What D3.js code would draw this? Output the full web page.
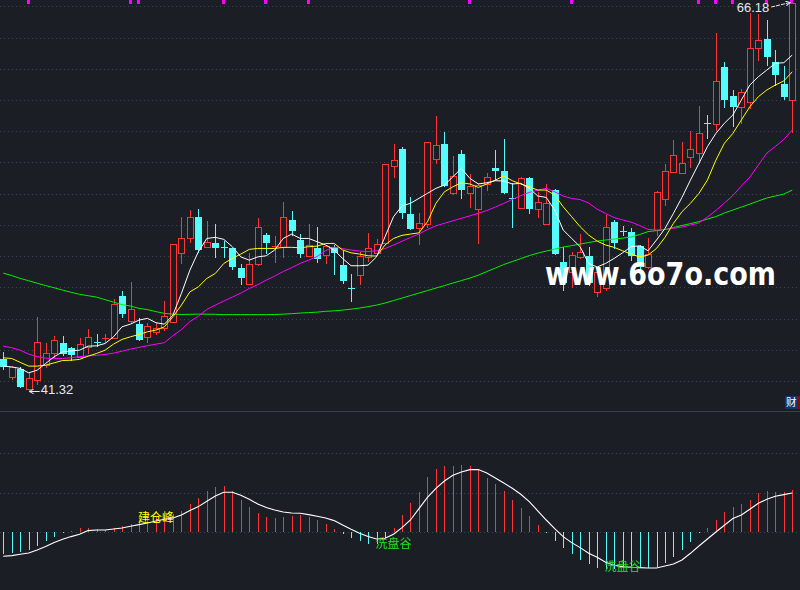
<!DOCTYPE html>
<html><head><meta charset="utf-8">
<script src="https://cdn.jsdelivr.net/npm/d3@7/dist/d3.min.js"></script>
<style>html,body{margin:0;padding:0;background:#1b1e25;overflow:hidden}</style>
</head><body>
<svg id="chart" width="800" height="590"></svg>
<script>
// ---- candle data (daily OHLC) ----
const opens  = [43.30,42.16,42.66,41.39,41.93,42.91,43.66,44.30,43.98,43.45,
                44.09,44.39,44.66,44.62,47.34,45.75,45.54,44.69,45.05,45.27,
                45.69,50.07,51.03,52.38,50.46,50.71,50.50,50.39,49.11,48.09,
                49.39,51.25,50.54,50.50,52.21,50.93,49.92,50.43,49.96,50.50,
                49.32,47.83,48.70,49.85,50.11,50.75,55.69,56.74,52.59,51.67,
                51.93,56.10,57.08,53.92,56.44,53.96,52.89,54.52,55.52,55.35,
                53.62,52.96,54.88,52.89,51.93,54.13,49.52,48.89,49.85,49.92,
                47.61,47.83,52.10,51.52,51.42,50.54,49.17,51.57,53.53,55.30,
                55.24,56.23,56.52,58.41,58.34,62.00,60.16,59.47,59.79,63.21,
                63.79,62.36,60.93,59.90];
const highs  = [43.77,42.85,42.80,42.45,46.01,44.30,44.79,44.79,44.09,44.62,
                45.22,44.88,44.88,47.14,47.66,48.25,45.91,45.59,45.59,47.02,
                50.65,52.42,52.85,52.89,52.14,51.93,50.88,50.39,49.39,50.07,
                52.32,51.35,51.18,53.38,52.80,51.31,51.95,51.78,50.61,50.61,
                50.22,48.75,50.16,51.35,50.97,55.78,57.08,56.87,53.66,52.68,
                57.19,58.87,57.83,56.31,56.70,55.16,54.60,55.20,56.70,57.38,
                54.56,54.98,54.98,54.02,54.52,54.19,50.50,50.18,51.31,50.50,
                49.13,52.53,52.21,51.82,51.67,50.61,51.03,54.09,55.80,57.34,
                57.23,57.91,59.52,58.94,64.21,62.36,60.54,60.59,65.48,65.41,
                65.03,63.11,62.08,66.18];
const lows   = [42.64,42.02,41.50,41.32,41.69,42.80,43.34,43.55,43.23,43.45,
                43.66,44.15,44.41,44.62,45.97,45.69,44.52,44.41,44.90,45.16,
                45.69,49.43,50.82,50.16,50.46,49.85,49.85,49.05,48.09,48.09,
                49.32,50.07,49.53,49.85,51.25,49.85,49.92,49.53,49.43,48.75,
                48.19,47.04,48.11,49.60,50.07,50.71,54.98,52.32,51.63,50.65,
                51.74,55.88,54.39,53.87,53.60,53.06,50.75,54.13,54.77,53.96,
                51.78,52.96,52.64,52.38,51.93,50.03,47.72,47.93,49.75,48.04,
                47.36,47.72,50.39,51.25,49.64,49.00,49.15,51.25,53.17,55.30,
                55.24,55.62,55.84,57.48,57.98,59.47,58.23,58.41,59.37,62.46,
                62.14,60.86,59.96,57.87];
const closes = [42.77,42.77,41.52,42.12,44.37,43.66,44.50,43.62,43.57,44.24,
                44.69,44.34,44.66,46.82,46.18,46.48,44.52,45.43,45.30,46.05,
                50.65,51.03,52.38,50.29,50.78,50.43,50.48,49.17,48.51,49.37,
                51.74,50.75,50.54,52.42,51.52,50.03,50.61,49.71,50.56,50.07,
                48.30,47.80,49.90,50.39,50.65,55.78,56.05,52.64,51.63,52.00,
                57.19,57.02,54.39,55.03,54.13,54.39,54.45,54.98,55.37,53.96,
                53.57,54.88,52.91,53.34,53.28,50.03,48.17,49.95,50.18,48.15,
                48.89,51.78,50.71,51.50,49.90,49.21,50.03,53.98,55.37,56.37,
                55.84,56.74,57.76,58.38,61.12,59.90,59.47,60.39,63.21,63.75,
                62.68,61.50,60.07,66.10];

// ---- moving averages as drawn ----
const ma5  = [42.85,42.80,42.70,42.42,42.59,43.02,43.45,43.77,43.83,43.87,
              44.13,44.15,44.30,44.73,45.37,45.54,45.80,45.91,45.63,45.54,
              46.12,47.51,49.00,50.18,51.03,51.10,50.97,50.50,49.85,49.64,
              49.85,49.92,50.29,51.03,51.31,51.03,51.03,50.82,50.61,50.29,
              49.75,49.28,49.28,49.32,49.85,51.14,52.42,53.11,53.28,53.60,
              53.92,54.24,54.45,54.98,55.52,54.88,54.52,54.60,54.73,54.71,
              54.52,54.56,54.24,53.75,53.66,52.85,51.57,51.03,50.50,49.43,
              49.20,49.43,49.75,50.11,50.50,50.56,50.24,50.93,51.67,52.64,
              53.66,54.77,55.84,56.91,57.76,58.41,58.94,59.90,60.86,61.39,
              61.82,62.25,62.29,62.78];
const ma10 = [43.38,43.34,43.09,42.85,42.85,42.91,43.06,43.21,43.23,43.28,
              43.49,43.66,43.87,44.26,44.56,44.73,44.88,45.05,45.16,45.37,
              46.01,46.76,47.61,47.93,48.47,48.79,49.43,49.75,50.03,50.33,
              50.39,50.39,50.39,50.46,50.46,50.43,50.50,50.54,50.71,50.71,
              50.29,50.11,50.03,49.92,49.90,50.61,51.03,51.23,51.31,51.39,
              52.10,53.28,54.02,54.34,54.60,54.52,54.30,54.52,54.77,55.03,
              54.73,54.52,54.34,54.13,54.13,53.81,53.06,52.42,51.78,51.25,
              50.86,50.61,50.46,50.24,50.03,49.85,49.96,50.39,51.10,52.00,
              52.74,53.28,53.92,54.77,56.05,57.13,57.76,58.62,59.47,60.11,
              60.54,60.86,61.12,61.71];
const ma20 = [44.13,44.03,43.87,43.62,43.46,43.36,43.34,43.34,43.39,43.46,
              43.50,43.54,43.60,43.68,43.81,43.94,44.05,44.16,44.26,44.35,
              44.80,45.19,45.70,46.05,46.48,46.76,47.02,47.27,47.53,47.82,
              48.07,48.36,48.62,48.91,49.16,49.43,49.64,49.87,50.25,50.48,
              50.38,50.29,50.22,50.19,50.25,50.38,50.61,50.85,51.09,51.32,
              51.60,51.84,52.00,52.16,52.32,52.48,52.64,52.82,53.04,53.28,
              53.53,53.78,53.98,54.13,54.24,54.02,53.75,53.59,53.52,53.30,
              52.91,52.63,52.37,52.22,52.08,51.86,51.61,51.57,51.60,51.68,
              51.76,51.89,52.02,52.40,52.82,53.30,53.78,54.39,54.96,55.73,
              56.50,56.92,57.37,57.98];
const ma60 = [48.81,48.65,48.47,48.32,48.16,48.01,47.87,47.72,47.58,47.45,
              47.36,47.27,47.11,46.95,46.79,46.70,46.55,46.47,46.34,46.23,
              46.18,46.16,46.17,46.18,46.18,46.17,46.15,46.15,46.15,46.15,
              46.15,46.15,46.16,46.18,46.21,46.25,46.28,46.31,46.36,46.39,
              46.44,46.50,46.57,46.66,46.76,46.89,47.05,47.21,47.37,47.53,
              47.69,47.85,48.01,48.17,48.33,48.49,48.68,48.91,49.13,49.36,
              49.55,49.74,49.93,50.09,50.22,50.35,50.48,50.57,50.67,50.77,
              50.86,50.93,50.99,51.05,51.12,51.28,51.47,51.53,51.60,51.73,
              51.86,51.98,52.11,52.27,52.43,52.66,52.85,53.04,53.23,53.43,
              53.62,53.75,53.87,54.13];

// ---- lower oscillator ----
const oscHist = [-21.7,-20.3,-19.3,-17.7,-13.7,-8.3,-4.3,-0.7,1.7,4.3,
                 4.3,3,2,4.3,6.3,8.3,12.3,15,15,17.3,
                 18.3,21.7,28.3,34.3,41.3,45.3,46.3,41.3,32.3,25.3,
                 19.3,15.3,14.3,15.3,16.3,17.3,15.3,12.3,8.3,3.3,
                 -1.7,-5.7,-8.3,-11.3,-12,-6,4.3,17.3,29.3,40,
                 55.3,63.3,66.3,66.3,67.3,66.3,62.7,54.3,48.3,41.3,
                 32.3,24.3,16.3,7.3,-0.3,-8.3,-15.7,-21.7,-27.7,-31.7,
                 -35.7,-36.3,-36.3,-36,-36,-36,-35.7,-35,-30.7,-24.7,
                 -17.7,-9.7,-0.7,4.3,12.3,20.3,25.3,28.3,32.3,39.3,
                 41.3,40.3,40.3,42.3];
const oscLine = [-24,-23.3,-22,-20.7,-17.7,-14.3,-10.3,-7,-4.3,-2,
                 1.7,2.3,2.3,3.3,4.3,6,7.7,9.3,11.3,13,
                 14.3,17.3,21.7,25.7,31,36.3,40,40,37,33,
                 28.3,24.7,22.3,20.3,19.3,19,17.7,16,14.3,11.7,
                 7.3,3,-1,-4.3,-6.7,-6,-2,4.7,12.3,23.7,
                 35,44,51.3,57,60.3,62.7,62.7,59.3,54.3,49.3,
                 44,38,30.7,21.5,12.3,3.7,-4.3,-10.3,-15.3,-21,
                 -25,-30,-33,-34.3,-35,-35.3,-35.7,-35.7,-33.7,-31.7,
                 -27.7,-21,-13.7,-6.7,0.3,7,13.7,17.3,23,29,
                 33,36,37.7,39.3];
const oscGrid = [0, 39.5, 79];
const oscLabelIdx  = [16, 44, 71];
const oscLabelVal  = [13.3, -12.7, -35.7];
const oscLabelText = ["建仓峰", "洗盘谷", "洗盘谷"];
const oscLabelKind = ["peak", "valley", "valley"];

// ---- signal marks along the top edge ----
const signalDays = [3, 15, 16, 26, 31, 36, 55, 67, 82, 84, 86, 90, 93];

// ================= drawing =================
const W = 800, H = 590;
const BG = "#1b1e25", RED = "#ff3434", CYAN = "#54fcfc";
const svg = d3.select("#chart");
svg.append("rect").attr("width", W).attr("height", H).attr("fill", BG);

const n = closes.length;
const x = d3.scaleBand().domain(d3.range(n)).range([-1, 796.5]).padding(0);
const xc = i => x(i) + x.bandwidth() / 2;
const px = i => Math.round(xc(i));
const y = d3.scaleLinear().domain([d3.min(lows), d3.max(highs)]).range([390, 2]);
const yo = d3.scaleLinear().domain([0, 79]).range([532.3, 453.3]);

// grid – upper panel
const gTop = 6.3, gBot = 381, gCount = 13;
const gridG = svg.append("g").attr("stroke", "#3e424c").attr("stroke-dasharray", "1,3")
  .attr("shape-rendering", "crispEdges");
gridG.selectAll("line.tg").data(d3.range(gCount)).join("line")
  .attr("x1", 0).attr("x2", W)
  .attr("y1", k => Math.round(gTop + k * (gBot - gTop) / (gCount - 1)) + 0.5)
  .attr("y2", k => Math.round(gTop + k * (gBot - gTop) / (gCount - 1)) + 0.5);
gridG.selectAll("line.bg").data(oscGrid).join("line")
  .attr("x1", 0).attr("x2", W)
  .attr("y1", v => Math.round(yo(v)) + 0.5).attr("y2", v => Math.round(yo(v)) + 0.5);

// panel separator
svg.append("line").attr("x1", 0).attr("x2", W).attr("y1", 411.5).attr("y2", 411.5)
  .attr("stroke", "#3c404a").attr("stroke-width", 1);

// candles
const cg = svg.append("g").attr("shape-rendering", "crispEdges");
d3.range(n).forEach(i => {
  const up = closes[i] >= opens[i];
  const col = up ? RED : CYAN;
  const cx = px(i);
  cg.append("line").attr("x1", cx + 0.5).attr("x2", cx + 0.5)
    .attr("y1", Math.round(y(highs[i]))).attr("y2", Math.round(y(lows[i])) + 1)
    .attr("stroke", col);
  const t = Math.round(y(Math.max(opens[i], closes[i])));
  const b = Math.round(y(Math.min(opens[i], closes[i])));
  if (up) {
    cg.append("rect").attr("x", cx - 2.5).attr("y", t + 0.5)
      .attr("width", 6).attr("height", Math.max(b - t, 0.01))
      .attr("fill", BG).attr("stroke", col);
  } else {
    cg.append("rect").attr("x", cx - 3).attr("y", t)
      .attr("width", 7).attr("height", Math.max(b - t, 1)).attr("fill", col);
  }
});

// moving average lines
const line = arr => d3.line().x((d, i) => xc(i)).y(d => y(d))(arr);
[[ma60, "#00f000"], [ma20, "#ff00ff"], [ma10, "#ffff00"], [ma5, "#ffffff"]].forEach(([arr, c]) => {
  svg.append("path").attr("d", line(arr)).attr("fill", "none").attr("stroke", c).attr("stroke-width", 1);
});

// signal marks
svg.append("g").selectAll("rect").data(signalDays).join("rect")
  .attr("x", i => px(i) - 2).attr("y", 0).attr("width", 3).attr("height", 4).attr("fill", "#ff00ff");

// high / low annotations
const defs = svg.append("defs");
defs.append("marker").attr("id", "ah").attr("viewBox", "0 0 8 8").attr("refX", 7).attr("refY", 4)
  .attr("markerWidth", 6).attr("markerHeight", 6).attr("orient", "auto")
  .append("path").attr("d", "M1,1 L7,4 L1,7").attr("fill", "none").attr("stroke", "#e8ecf0").attr("stroke-width", 1.3);

const iMax = d3.maxIndex(highs), iMin = d3.minIndex(lows);
const hx = xc(iMax), hy = y(highs[iMax]);
svg.append("text").attr("x", hx - 23).attr("y", hy + 7).attr("text-anchor", "end")
  .attr("dominant-baseline", "middle").attr("font-family", "Liberation Sans, Arial, sans-serif")
  .attr("font-size", 13).attr("fill", "#e4e9ef").text(d3.format(".2f")(highs[iMax]));
svg.append("line").attr("x1", hx - 21).attr("y1", hy + 5).attr("x2", hx - 2).attr("y2", hy + 0.5)
  .attr("stroke", "#e8ecf0").attr("stroke-width", 1).attr("stroke-dasharray", "4,1")
  .attr("marker-end", "url(#ah)");

const lx = xc(iMin), ly = y(lows[iMin]);
svg.append("line").attr("x1", lx + 11).attr("y1", ly + 1.5).attr("x2", lx + 0.5).attr("y2", ly + 1.5)
  .attr("stroke", "#e8ecf0").attr("stroke-width", 1).attr("marker-end", "url(#ah)");
svg.append("text").attr("x", lx + 12).attr("y", ly + 1).attr("dominant-baseline", "middle")
  .attr("font-family", "Liberation Sans, Arial, sans-serif").attr("font-size", 13)
  .attr("fill", "#e4e9ef").text(d3.format(".2f")(lows[iMin]));

// oscillator bars + line
const og = svg.append("g").attr("shape-rendering", "crispEdges");
og.selectAll("line").data(oscHist).join("line")
  .attr("x1", (d, i) => px(i) + 0.5).attr("x2", (d, i) => px(i) + 0.5)
  .attr("y1", Math.round(yo(0))).attr("y2", d => Math.round(yo(d)))
  .attr("stroke", d => d >= 0 ? RED : CYAN).attr("stroke-width", 1);
svg.append("path")
  .attr("d", d3.line().x((d, i) => xc(i)).y(d => yo(d))(oscLine))
  .attr("fill", "none").attr("stroke", "#ffffff").attr("stroke-width", 1.1);

// oscillator labels
oscLabelIdx.forEach((ix, k) => {
  svg.append("text").attr("x", xc(ix) - 1).attr("y", yo(oscLabelVal[k]))
    .attr("dominant-baseline", "middle")
    .attr("font-family", "Noto Sans CJK SC, sans-serif").attr("font-size", 12)
    .attr("fill", oscLabelKind[k] === "peak" ? "#ffff00" : "#22dd22")
    .text(oscLabelText[k]);
});

// watermark (condensed by vertical stretch so its natural width stays inside the frame)
svg.append("text").attr("transform", "translate(545,285) scale(1,1.16)")
  .attr("font-family", "DejaVu Sans, sans-serif").attr("font-weight", "bold").attr("font-size", 27)
  .attr("fill", "#ffffff").text("www.6o7o.com");

// finance badge at right edge
svg.append("rect").attr("x", 785).attr("y", 396).attr("width", 12).attr("height", 13).attr("fill", "#0c3a6e");
svg.append("text").attr("x", 786).attr("y", 403).attr("dominant-baseline", "middle")
  .attr("font-family", "Noto Sans CJK SC, sans-serif").attr("font-size", 10.5).attr("fill", "#ffffff").text("财");
svg.append("rect").attr("x", 797).attr("y", 396).attr("width", 3).attr("height", 13).attr("fill", "#8a0a0a");
</script>
</body></html>
